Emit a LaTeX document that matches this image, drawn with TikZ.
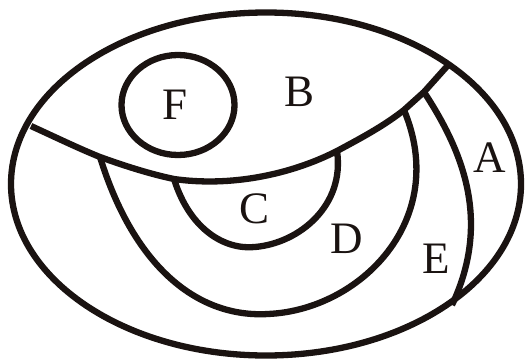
\documentclass[tikz,border=0pt]{standalone}
\usepackage{fontspec}
\setmainfont{Liberation Serif}
\usetikzlibrary{shapes.geometric}
\definecolor{ink}{HTML}{1A1311}
\begin{document}
\begin{tikzpicture}[x=1pt,y=-1pt,
  line/.style={draw=ink,line width=6.3pt},
  lbl/.style={text=ink,font=\fontsize{45}{45}\selectfont,inner sep=0pt}]
\useasboundingbox (0,0) rectangle (528,359);
\node[line,ellipse,minimum width=510,minimum height=343,inner sep=0pt] (outer) at (266,184) {};
\node[line,ellipse,minimum width=113,minimum height=100,inner sep=0pt] (F) at (178,105) {};
\coordinate (b0) at (31,126);
\coordinate (b1) at (100,157);
\coordinate (b2) at (174,179);
\coordinate (b3) at (337,151);
\coordinate (b4) at (404,110);
\coordinate (b5) at (424,92);
\coordinate (b6) at (450,63);
\draw[line] (b0) .. controls (55,137) and (80,149) .. (b1)
  .. controls (125,166) and (150,174) .. (b2)
  .. controls (230,187) and (290,175) .. (b3)
  .. controls (365,136) and (385,125) .. (b4)
  -- (b5) -- (b6);
\draw[line] (b2) .. controls (190,230) and (225,250) .. (255,247)
  .. controls (300,243) and (345,205) .. (b3);
\draw[line] (b1) .. controls (135,270) and (200,318) .. (268,314)
  .. controls (360,310) and (450,220) .. (b4);
\draw[line] (b5) .. controls (462,150) and (492,220) .. (452,305);
\node[lbl] (tF) at (175,105) {F};
\node[lbl] (tB) at (300,92) {B};
\node[lbl] (tA) at (490,158) {A};
\node[lbl] (tC) at (255,209) {C};
\node[lbl] (tD) at (347,239) {D};
\node[lbl] (tE) at (436,259) {E};
\end{tikzpicture}
\end{document}
